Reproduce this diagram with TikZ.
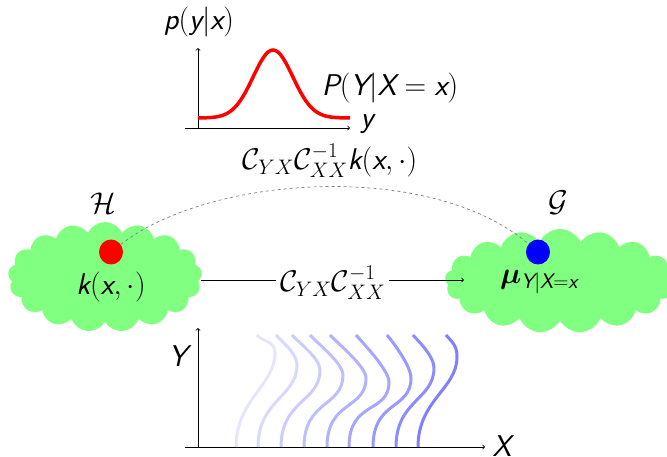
\RequirePackage{fix-cm}
\documentclass[tikz,border=0pt]{standalone}
\usepackage{amsmath,bm}
\usepackage{fontspec}
\usetikzlibrary{shapes.symbols,shapes.geometric}
\newcommand\sv[1]{\textsf{\itshape #1}}
\begin{document}
\begin{tikzpicture}[x=1pt,y=-1pt,
  lbl/.style={font=\fontsize{30}{34}\selectfont, inner sep=1pt},
  cloudnode/.style={cloud, cloud puffs=17, cloud puff arc=130, aspect=2, fill=green!50, draw=none},
  axis/.style={-to, line width=0.8pt},
  dot/.style={ellipse, minimum width=24pt, minimum height=25pt, inner sep=0pt},
  wave/.style={line width=3pt}]
\useasboundingbox (0,0) rectangle (667,457);
% clouds
\node[cloudnode, minimum width=194pt, minimum height=110pt] (H) at (105,277) {};
\node[cloudnode, minimum width=230pt, minimum height=104pt] (G) at (560,281) {};
% top plot
\coordinate (ta0) at (198,128);
\coordinate (tay) at (198,48);
\coordinate (tax0) at (185,128);
\coordinate (tax) at (350,128);
\draw[axis] (ta0) -- (tay);
\draw[axis] (tax0) -- (tax);
\node[lbl] (py) at (199,22) {$\sv{p}(\sv{y}|\sv{x})$};
\node[lbl] (ylab) at (367,124) {$\sv{y}$};
\draw[red, line width=3.5pt] plot[domain=198:350, samples=80, smooth] (\x, {118-68*exp(-((\x-273)/28)^2)});
\node[lbl] (PY) at (390,88) {$\sv{P}(\sv{Y}|\sv{X}=\sv{x})$};
\node[lbl] (Hl) at (103,203) {$\mathcal{H}$};
\node[lbl] (Gl) at (558,203) {$\mathcal{G}$};
\node[dot, fill=red] (rd) at (111,252) {};
\node[dot, fill=blue] (bd) at (538,252) {};
\node[lbl] (k) at (111,287) {$\sv{k}(\sv{x},\cdot)$};
\node[lbl] (mu) at (539,282) {$\boldsymbol{\mu}_{\sv{Y}|\sv{X}=\sv{x}}$};
\coordinate (arrEnd) at (464,280);
\draw[-to, line width=0.8pt] (H.east |- arrEnd) -- node[lbl, fill=white, inner sep=4pt, yshift=-3pt] (op) {$\mathcal{C}_{YX}\mathcal{C}_{XX}^{-1}$} (arrEnd);
\draw[gray, dashed, line width=0.7pt] (rd) .. controls (210,175) and (430,160) .. (bd);
\node[lbl] (op2) at (330,161) {$\mathcal{C}_{YX}\mathcal{C}_{XX}^{-1}\sv{k}(\sv{x},\cdot)$};
% bottom plot
\coordinate (ba0) at (198,447);
\coordinate (bay) at (198,328);
\coordinate (bax0) at (185,447);
\coordinate (bax) at (485,447);
\draw[axis] (ba0) -- (bay);
\draw[axis] (bax0) -- (bax);
\node[lbl] (Yl) at (178,356) {$\sv{Y}$};
\node[lbl] (Xl) at (502,446) {$\sv{X}$};
\foreach \xb/\xt/\bx/\by/\c in {236/257/275/353/10, 258/276/297/365/15, 281/292/320/370/20, 304/310/343/375/25, 327/330/366/378/30, 349/356/389/382/35, 373/387/411/378/40, 396/413/434/368/45, 418/446/457/357/50}{
  \draw[wave, blue!\c] (\xb,447) .. controls (\xb,400) and (\bx,{\by+32}) .. (\bx,\by) .. controls (\bx,{\by-12}) and ({\xt+6},342) .. (\xt,335);
}
\end{tikzpicture}
\end{document}
